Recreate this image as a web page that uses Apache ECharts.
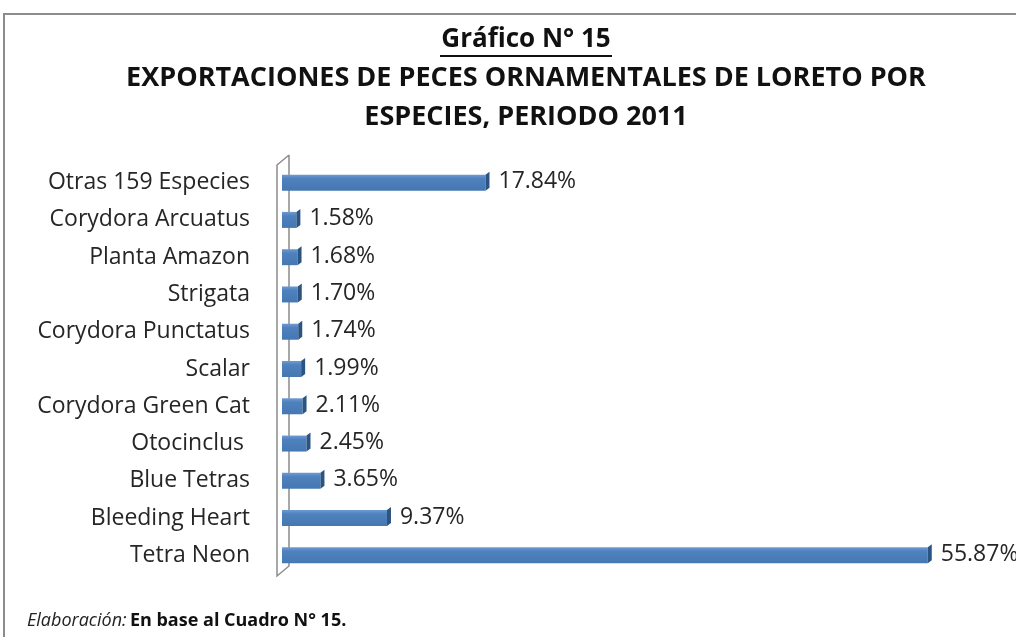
<!DOCTYPE html>
<html>
<head>
<meta charset="utf-8">
<script src="https://cdn.jsdelivr.net/npm/echarts@6/dist/echarts.min.js"></script>
<style>
html,body{margin:0;padding:0;background:#fff;}
#chart{width:1016px;height:637px;}
</style>
</head>
<body>
<div id="chart"></div>
<script>
var especies = ["Otras 159 Especies","Corydora Arcuatus","Planta Amazon","Strigata","Corydora Punctatus","Scalar","Corydora Green Cat","Otocinclus ","Blue Tetras","Bleeding Heart","Tetra Neon"];
var porcentajes = [17.84,1.58,1.68,1.70,1.74,1.99,2.11,2.45,3.65,9.37,55.87];
var etiquetas = ["17.84%","1.58%","1.68%","1.70%","1.74%","1.99%","2.11%","2.45%","3.65%","9.37%","55.87%"];

var fuente = "'Open Sans', 'Noto Sans', sans-serif";
var dom = document.getElementById("chart");
var myChart = echarts.init(dom);

var datos = [];
for (var i = 0; i < porcentajes.length; i++) {
	datos.push([porcentajes[i], i]);
}

function dibujarBarra(params, api) {
	var idx = api.value(1);
	var ini = api.coord([0, idx]);
	var fin = api.coord([api.value(0), idx]);
	var h = 16;
	var d = 4;
	var y0 = ini[1] - h / 2;
	return {
		type: 'group',
		children: [
			{
				type: 'rect',
				shape: {x: ini[0], y: y0, width: Math.max(fin[0] - ini[0] - d, 1), height: h},
				style: {
					fill: new echarts.graphic.LinearGradient(0, 0, 0, 1, [
						{offset: 0, color: '#6d9bd3'},
						{offset: 0.25, color: '#4f81bd'},
						{offset: 1, color: '#4577b3'}
					])
				}
			},
			{
				type: 'polygon',
				shape: {points: [[fin[0] - d, y0], [fin[0], y0 - 3], [fin[0], y0 + h - 3], [fin[0] - d, y0 + h]]},
				style: {fill: '#2c5483'}
			},
			{
				type: 'text',
				style: {
					x: fin[0] + 9, y: ini[1] - 1,
					text: etiquetas[idx],
					fill: '#262626',
					font: '23px ' + fuente,
					verticalAlign: 'middle'
				}
			}
		]
	};
}

var gl = 282;
var option = {
	animation: false,
	grid: {left: gl, top: 164, bottom: 637 - 574, width: 60 * 11.63, containLabel: false},
	xAxis: {
		type: 'value', min: 0, max: 60, show: false
	},
	yAxis: {
		type: 'category',
		data: especies,
		inverse: true,
		axisLine: {show: false},
		axisTick: {show: false},
		axisLabel: {
			margin: 32,
			fontSize: 23,
			fontFamily: fuente,
			color: '#262626'
		}
	},
	series: [
		{
			type: 'custom',
			renderItem: dibujarBarra,
			encode: {x: 0, y: 1},
			data: datos
		}
	],
	graphic: [
		{
			type: 'polyline',
			shape: {points: [[4, 640], [4, 14], [1020, 14]]},
			style: {stroke: '#8c8c8c', lineWidth: 2, fill: null}
		},
		{
			type: 'polyline',
			shape: {points: [[289, 155], [277, 165], [277, 576], [289, 566], [289, 155]]},
			style: {stroke: '#8c8c8c', lineWidth: 1.5, fill: null}
		},
		{
			type: 'text',
			style: {x: 526, y: 40, text: 'Gráfico N° 15', font: 'bold 26px ' + fuente, fill: '#111', align: 'center', verticalAlign: 'middle'}
		},
		{
			type: 'line',
			shape: {x1: 440, y1: 56, x2: 612, y2: 56},
			style: {stroke: '#111', lineWidth: 2}
		},
		{
			type: 'text',
			style: {x: 526, y: 78, text: 'EXPORTACIONES DE PECES ORNAMENTALES DE LORETO POR', font: 'bold 27px ' + fuente, fill: '#111', align: 'center', verticalAlign: 'middle'}
		},
		{
			type: 'text',
			style: {x: 526, y: 117, text: 'ESPECIES, PERIODO 2011', font: 'bold 27px ' + fuente, fill: '#111', align: 'center', verticalAlign: 'middle'}
		},
		{
			type: 'text',
			style: {
				x: 27, y: 621,
				text: '{i|Elaboración:} {b|En base al Cuadro N° 15.}',
				verticalAlign: 'middle',
				rich: {
					i: {fontSize: 18, fontStyle: 'italic', fontFamily: fuente, fill: '#222'},
					b: {fontSize: 18, fontWeight: 'bold', fontFamily: fuente, fill: '#111'}
				}
			}
		}
	]
};

if (option && typeof option === "object") {
	myChart.setOption(option, true);
}
</script>
</body>
</html>
